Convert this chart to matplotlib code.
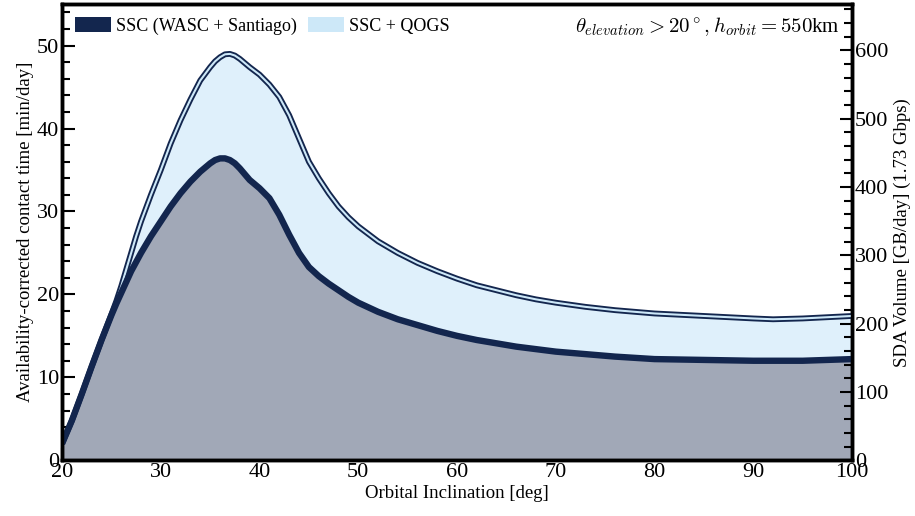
import numpy as np
import matplotlib
matplotlib.use("Agg")
import matplotlib.pyplot as plt
from matplotlib.patches import Patch
from matplotlib.ticker import MultipleLocator

plt.rcParams['font.family'] = ['Liberation Serif', 'DejaVu Serif']
plt.rcParams['mathtext.fontset'] = 'cm'

# inclination [deg]
incl = [20, 21, 22, 23, 24, 25, 25.5, 26, 26.5, 27, 27.5, 28, 29, 30, 31, 32, 33, 34, 35, 35.5,
        36, 36.5, 37, 37.5, 38, 39, 40, 41, 42, 43, 44, 45, 46, 47, 48, 49, 50, 52, 54, 56,
        58, 60, 62, 64, 66, 68, 70, 73, 76, 80, 85, 90, 92, 95, 100]
# contact time [min/day], SSC with WASC + Santiago
ssc = [2.0, 4.8, 8.0, 11.3, 14.5, 17.5, 18.9, 20.2, 21.5, 22.8, 23.9, 25.0, 27.0, 28.8, 30.6,
       32.2, 33.6, 34.8, 35.8, 36.2, 36.4, 36.4, 36.2, 35.8, 35.2, 33.8, 32.8, 31.6, 29.6, 27.2,
       25.0, 23.3, 22.2, 21.3, 20.5, 19.7, 19.0, 17.9, 17.0, 16.3, 15.6, 15.0, 14.5, 14.1, 13.7,
       13.4, 13.1, 12.8, 12.5, 12.2, 12.1, 12.0, 12.0, 12.0, 12.2]
# contact time [min/day], SSC + QOGS
ssc_qogs = [2.0, 4.8, 8.0, 11.3, 14.5, 17.6, 19.2, 21.0, 23.0, 25.0, 27.0, 28.8, 32.0, 35.0,
            38.2, 41.0, 43.5, 45.8, 47.4, 48.1, 48.6, 48.95, 49.0, 48.8, 48.4, 47.4, 46.5, 45.3,
            43.8, 41.6, 38.8, 36.0, 34.0, 32.2, 30.6, 29.3, 28.2, 26.4, 25.0, 23.8, 22.8, 21.9,
            21.1, 20.5, 19.9, 19.4, 19.0, 18.5, 18.1, 17.7, 17.4, 17.1, 17.0, 17.1, 17.4]

navy = '#13264e'
grey_fill = '#a1a8b7'
light_fill = '#dff0fb'
light_line = '#cde8f8'

fig = plt.figure(figsize=(9.15, 5.16), dpi=100)
ax = fig.add_axes([0.0678, 0.108, 0.8634, 0.884])

ax.fill_between(incl, ssc, ssc_qogs, color=light_fill, lw=0, zorder=1)
ax.fill_between(incl, 0, ssc, color=grey_fill, lw=0, zorder=2)
ax.plot(incl, ssc_qogs, color=navy, lw=4.2, zorder=3, solid_capstyle='butt', solid_joinstyle='round')
ax.plot(incl, ssc_qogs, color=light_line, lw=1.5, zorder=4, solid_capstyle='butt', solid_joinstyle='round')
ax.plot(incl, ssc, color=navy, lw=4.6, zorder=5, solid_capstyle='butt', solid_joinstyle='round')

ax.set_xlim(20, 100)
ax.set_ylim(0, 55)
ax.xaxis.set_major_locator(MultipleLocator(10))
ax.xaxis.set_minor_locator(MultipleLocator(2))
ax.yaxis.set_major_locator(MultipleLocator(10))
ax.yaxis.set_minor_locator(MultipleLocator(2))
ax.tick_params(which='both', direction='in', top=False, right=False, labelsize=16, width=1.5)
ax.tick_params(which='major', length=9, pad=2)
ax.tick_params(which='minor', length=6)
for s in ax.spines.values():
    s.set_linewidth(2.5)

ax.set_xlabel('Orbital Inclination [deg]', fontsize=13.5, labelpad=2)
ax.set_ylabel('Availability-corrected contact time [min/day]', fontsize=13.5, labelpad=2)

ax2 = ax.twinx()
ax2.set_ylim(0, 55 * 12.14)
ax2.yaxis.set_major_locator(MultipleLocator(100))
ax2.yaxis.set_minor_locator(MultipleLocator(20))
ax2.tick_params(which='both', direction='in', labelsize=16, width=1.5)
ax2.tick_params(which='major', length=9, pad=2)
ax2.tick_params(which='minor', length=6)
for s in ax2.spines.values():
    s.set_linewidth(2.5)
ax2.set_ylabel('SDA Volume [GB/day] (1.73 Gbps)', fontsize=13.5, labelpad=4)

handles = [Patch(facecolor=navy, edgecolor='none', label='SSC (WASC + Santiago)'),
           Patch(facecolor=light_line, edgecolor='none', label='SSC + QOGS')]
ax.legend(handles=handles, loc='upper left', ncol=2, frameon=False, fontsize=13,
          handlelength=2.0, handleheight=0.95, handletextpad=0.3, columnspacing=0.6,
          borderaxespad=0.3, bbox_to_anchor=(0.0, 1.0))

ax.text(0.985, 0.975, r'$\theta_{elevation} > 20^\circ, h_{orbit} = 550$km',
        transform=ax.transAxes, ha='right', va='top', fontsize=15)

fig.savefig('out.png', dpi=100)
